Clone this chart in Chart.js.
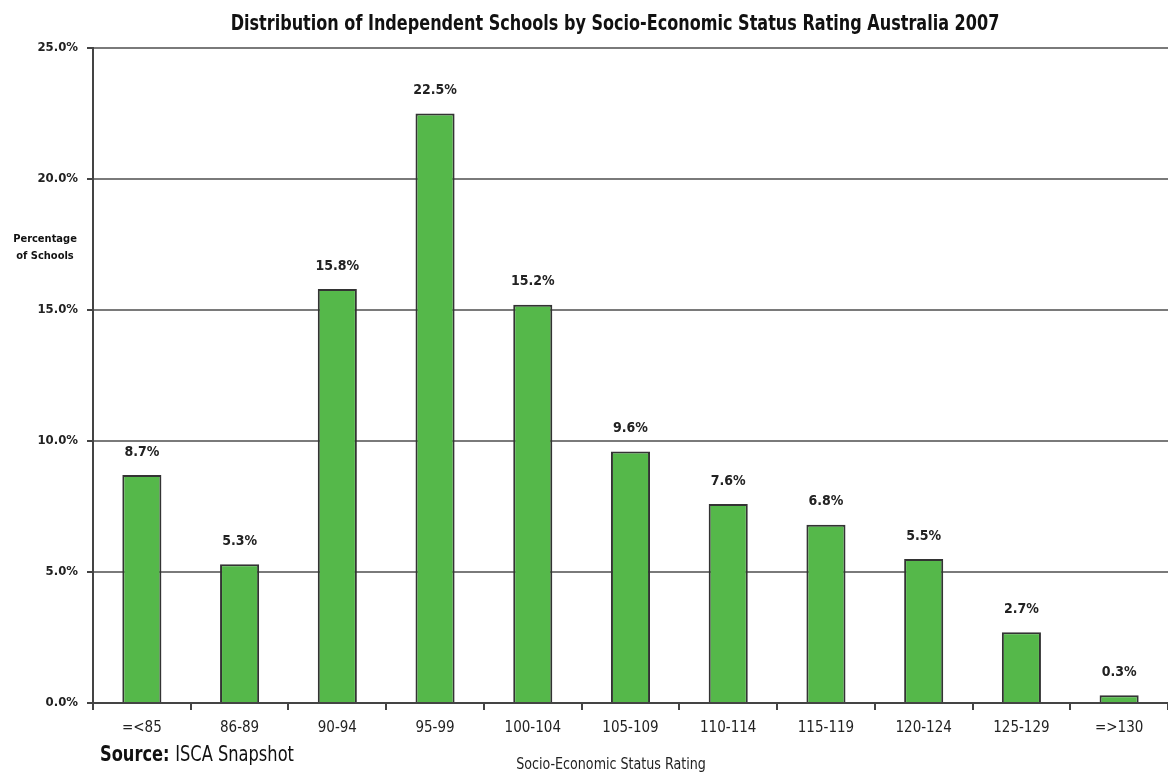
<!DOCTYPE html>
<html>
<head>
<meta charset="utf-8">
<script src="https://cdn.jsdelivr.net/npm/chart.js@4/dist/chart.umd.min.js"></script>
<style>
  html, body { margin: 0; padding: 0; background: #fff; }
  #wrap { position: relative; width: 1168px; height: 774px; }
</style>
</head>
<body>
<div id="wrap"><canvas id="sesChart"></canvas></div>
<script>
// SES rating bands and share of independent schools in each (%)
const bands = ['=<85', '86-89', '90-94', '95-99', '100-104', '105-109', '110-114', '115-119', '120-124', '125-129', '=>130'];
const shares = [8.7, 5.3, 15.8, 22.5, 15.2, 9.6, 7.6, 6.8, 5.5, 2.7, 0.3];
const yTicks = [0, 5, 10, 15, 20, 25];

const FONT = '"DejaVu Sans Condensed", "Liberation Sans Narrow", "Liberation Sans", sans-serif';

// draw text squeezed horizontally so it reads like a condensed face
function narrowText(ctx, text, x, y, squeeze) {
    ctx.save();
    ctx.translate(x, y);
    ctx.scale(squeeze, 1);
    ctx.fillText(text, 0, 0);
    ctx.restore();
}

// value labels above bars, plus title / axis captions / source line
const annotations = {
    id: 'annotations',
    afterDatasetsDraw(chart) {
        const ctx = chart.ctx;
        const meta = chart.getDatasetMeta(0);
        ctx.save();
        ctx.fillStyle = '#222';
        ctx.font = 'bold 14px ' + FONT;
        ctx.textAlign = 'center';
        ctx.textBaseline = 'middle';
        meta.data.forEach((bar, i) => {
            ctx.fillText(shares[i].toFixed(1) + '%', bar.x, bar.y - 23);
        });
        ctx.restore();
    },
    afterDraw(chart) {
        const ctx = chart.ctx;
        ctx.save();
        ctx.fillStyle = '#111';
        ctx.textBaseline = 'middle';

        ctx.textAlign = 'center';
        ctx.font = 'bold 21px ' + FONT;
        narrowText(ctx, 'Distribution of Independent Schools by Socio-Economic Status Rating Australia 2007', 615, 25, 0.85);

        ctx.font = 'bold 11px ' + FONT;
        ctx.fillText('Percentage', 45, 239);
        ctx.fillText('of Schools', 45, 256);

        ctx.font = '15px ' + FONT;
        ctx.fillStyle = '#222';
        narrowText(ctx, 'Socio-Economic Status Rating', 611, 765, 0.94);

        ctx.textAlign = 'left';
        ctx.fillStyle = '#111';
        ctx.font = 'bold 21px ' + FONT;
        narrowText(ctx, 'Source:', 100, 756, 0.86);
        const w = ctx.measureText('Source: ').width * 0.86;
        ctx.font = '21px ' + FONT;
        narrowText(ctx, 'ISCA Snapshot', 100 + w, 756, 0.86);
        ctx.restore();
    }
};

new Chart(document.getElementById('sesChart'), {
    type: 'bar',
    data: {
        labels: bands,
        datasets: [{
            data: shares,
            backgroundColor: '#55b84a',
            borderColor: '#333',
            borderWidth: 2,
            categoryPercentage: 1,
            barPercentage: 0.4
        }]
    },
    options: {
        responsive: true,
        maintainAspectRatio: false,
        animation: false,
        layout: { padding: { top: 48, right: 0, bottom: 0, left: 0 } },
        plugins: {
            legend: { display: false },
            tooltip: { enabled: false },
            title: { display: false }
        },
        scales: {
            x: {
                afterFit: s => { s.height = 71; },
                grid: {
                    drawOnChartArea: false,
                    drawTicks: true,
                    tickLength: 7,
                    color: '#444',
                    lineWidth: 2
                },
                border: { color: '#444', width: 2 },
                ticks: {
                    color: '#222',
                    padding: 9,
                    font: { family: FONT, size: 15 }
                }
            },
            y: {
                min: 0,
                max: 25,
                afterFit: s => { s.width = 93; },
                afterBuildTicks: s => { s.ticks = yTicks.map(v => ({ value: v })); },
                grid: {
                    color: '#7a7a7a',
                    lineWidth: 2,
                    tickLength: 6,
                    tickColor: '#444'
                },
                border: { color: '#444', width: 2 },
                ticks: {
                    color: '#222',
                    padding: 9,
                    font: { family: FONT, size: 13, weight: 'bold' },
                    callback: v => v.toFixed(1) + '%'
                }
            }
        }
    },
    plugins: [annotations]
});
</script>
</body>
</html>
